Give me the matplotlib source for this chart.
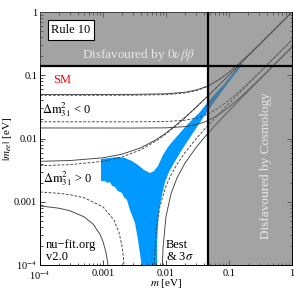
import matplotlib
matplotlib.use("Agg")
import matplotlib.pyplot as plt
from matplotlib.ticker import FixedLocator, FixedFormatter, LogLocator, NullFormatter

plt.rcParams["font.family"] = ["Liberation Serif", "DejaVu Serif"]
plt.rcParams["mathtext.fontset"] = "stix"

# inverted ordering (Delta m^2_31 < 0)
ih_m = [1e-4, 1e-3, 3e-3, 0.01, 0.02, 0.03, 0.04, 0.05, 0.07, 0.1, 0.15, 0.2, 0.3, 0.5, 1]
ih_upper_best = [0.0482, 0.04825, 0.04837, 0.04941, 0.05247, 0.0571, 0.06297, 0.06977,
                 0.08527, 0.11124, 0.15772, 0.20585, 0.30393, 0.50237, 1.00118]
ih_upper_3s = [0.04975, 0.04977, 0.04988, 0.05088, 0.05384, 0.05836, 0.06411, 0.0708,
               0.08612, 0.11189, 0.15817, 0.2062, 0.30417, 0.50252, 1.00126]
ih_lower_best = [0.01837, 0.01835, 0.01834, 0.01854, 0.01946, 0.02101, 0.02304, 0.02543,
                 0.03096, 0.04027, 0.05701, 0.07437, 0.10976, 0.18138, 0.36144]
ih_lower_3s = [0.01467, 0.01465, 0.01463, 0.01474, 0.0154, 0.01656, 0.01811, 0.01995,
               0.02421, 0.03144, 0.04444, 0.05794, 0.08547, 0.1412, 0.28135]

# normal ordering (Delta m^2_31 > 0)
nh_m = [1e-4, 3e-4, 1e-3, 2e-3, 4e-3, 7e-3, 0.01, 0.015, 0.02, 0.03, 0.04, 0.05,
        0.07, 0.1, 0.15, 0.2, 0.3, 0.5, 1]
nh_upper_best = [0.003724, 0.003861, 0.004354, 0.005085, 0.006643, 0.009167, 0.011842,
                 0.016489, 0.021258, 0.030967, 0.040785, 0.050656, 0.070489, 0.100344,
                 0.150221, 0.200148, 0.300065, 0.49998, 0.99984]
nh_upper_3s = [0.004356, 0.004486, 0.00495, 0.005645, 0.007139, 0.009587, 0.012206,
               0.016789, 0.021516, 0.031172, 0.040955, 0.050803, 0.070608, 0.100441,
               0.150301, 0.200229, 0.300152, 0.500092, 1.00004]

nh_low_best_left_m = [1e-4, 2e-4, 3e-4, 5e-4, 1e-3, 1.5e-3, 1.8e-3, 2e-3, 2.1e-3, 2.2e-3, 2.25e-3]
nh_low_best_left = [0.001426, 0.001359, 0.001291, 0.001158, 0.00083, 0.000511, 0.000324,
                    0.000199, 0.000138, 0.000076, 0.000046]
nh_low_best_right_m = [6.3e-3, 6.4e-3, 6.5e-3, 7e-3, 8e-3, 0.01, 0.012, 0.015, 0.02, 0.03,
                       0.04, 0.05, 0.07, 0.1, 0.15, 0.2, 0.3, 0.5, 1]
nh_low_best_right = [0.000015, 0.000066, 0.000116, 0.000363, 0.000846, 0.001772, 0.002656,
                     0.003931, 0.00597, 0.009875, 0.013671, 0.017414, 0.024809, 0.035796,
                     0.053989, 0.072132, 0.108355, 0.180723, 0.36156]

nh_low_3s_left_m = [1e-4, 2e-4, 3e-4, 5e-4, 7e-4, 9e-4, 1e-3, 1.1e-3, 1.15e-3, 1.2e-3, 1.3e-3]
nh_low_3s_left = [0.00086, 0.00079, 0.000719, 0.000579, 0.000441, 0.000303, 0.000235,
                  0.000167, 0.000133, 0.0001, 0.000032]
nh_low_3s_right_m = [8.6e-3, 8.8e-3, 9e-3, 0.01, 0.012, 0.015, 0.02, 0.03, 0.04, 0.05, 0.07,
                     0.1, 0.15, 0.2, 0.3, 0.5, 1]
nh_low_3s_right = [0.000033, 0.000115, 0.000194, 0.000586, 0.001335, 0.002399, 0.004068,
                   0.007204, 0.010213, 0.013157, 0.018936, 0.027479, 0.041579, 0.055611,
                   0.083608, 0.139508, 0.27916]

# Rule 10 prediction region (outline)
blue_m = [0.000929, 0.00129, 0.00173, 0.00223, 0.00288, 0.0036, 0.00448, 0.00557, 0.00646,
          0.00746, 0.00895, 0.01076, 0.0129, 0.01667, 0.02153, 0.0278, 0.0347, 0.0448, 0.06,
          0.0865, 0.1156, 0.144, 0.1667, 0.129, 0.0964, 0.072, 0.0537, 0.0386, 0.0288,
          0.02153, 0.01667, 0.0134, 0.01117, 0.00964, 0.00865, 0.00775, 0.00746, 0.00719,
          0.00719, 0.00416, 0.0036, 0.00322, 0.00268, 0.0024, 0.00215, 0.002, 0.00172,
          0.00155, 0.0014, 0.00129, 0.00118, 0.00108, 0.000929]
blue_mee = [0.00474, 0.00492, 0.0051, 0.00492, 0.00441, 0.00381, 0.00318, 0.00285, 0.00306,
            0.00367, 0.00548, 0.00734, 0.00913, 0.01222, 0.01634, 0.0211, 0.02624, 0.0364,
            0.0506, 0.0754, 0.1086, 0.1507, 0.1507, 0.1086, 0.0754, 0.0506, 0.0339, 0.0211,
            0.0136, 0.00881, 0.0059, 0.0041, 0.00295, 0.00205, 0.00128, 0.00074, 0.000429,
            0.000207, 0.00009, 0.00009, 0.000248, 0.000461, 0.00074, 0.00107, 0.00118,
            0.00138, 0.00148, 0.00171, 0.00178, 0.00205, 0.00198, 0.00212, 0.00213]

# experimental bounds
mee_bound = 0.14      # 0vbb
m_bound = 0.047       # cosmology

tick_vals = [1e-4, 1e-3, 1e-2, 1e-1, 1]
tick_labels = ["10$^{-4}$", "0.001", "0.01", "0.1", "1"]

W, H = 294, 294


def px(x, y):
    """pixel position (from top-left) to figure fraction"""
    return x / W, 1 - y / H


fig = plt.figure(figsize=(W / 100, H / 100), dpi=100)
ax = fig.add_axes([40 / W, 1 - 265 / H, 252 / W, 253 / H])
ax.set_xscale("log")
ax.set_yscale("log")
ax.set_xlim(1e-4, 1)
ax.set_ylim(1e-4, 1)

ax.fill(blue_m, blue_mee, color="#0099ff", lw=0, zorder=1)

line_kw = dict(color="0.25", lw=0.65, zorder=2)
dash_kw = dict(color="0.25", lw=0.65, zorder=2, dashes=(3, 1.8))
ax.plot(ih_m, ih_upper_3s, **line_kw)
ax.plot(ih_m, ih_lower_3s, **line_kw)
ax.plot(ih_m, ih_upper_best, **dash_kw)
ax.plot(ih_m, ih_lower_best, **dash_kw)
ax.plot(nh_m, nh_upper_3s, **line_kw)
ax.plot(nh_m, nh_upper_best, **dash_kw)
ax.plot(nh_low_3s_left_m, nh_low_3s_left, **line_kw)
ax.plot(nh_low_3s_right_m, nh_low_3s_right, **line_kw)
ax.plot(nh_low_best_left_m, nh_low_best_left, **dash_kw)
ax.plot(nh_low_best_right_m, nh_low_best_right, **dash_kw)

# disfavoured regions, one L-shaped patch so the corner is not shaded twice
ax.fill([1e-4, m_bound, m_bound, 1, 1, 1e-4],
        [mee_bound, mee_bound, 1e-4, 1e-4, 1, 1],
        color="#6b6b6b", alpha=0.62, lw=0, zorder=3)
ax.axhline(mee_bound, color="black", lw=1.6, zorder=4)
ax.axvline(m_bound, color="black", lw=1.6, zorder=4)

ax.xaxis.set_major_locator(FixedLocator(tick_vals))
ax.xaxis.set_major_formatter(FixedFormatter(tick_labels))
ax.yaxis.set_major_locator(FixedLocator(tick_vals))
ax.yaxis.set_major_formatter(FixedFormatter(tick_labels))
for axis in (ax.xaxis, ax.yaxis):
    axis.set_minor_locator(LogLocator(base=10, subs=range(2, 10)))
    axis.set_minor_formatter(NullFormatter())
ax.tick_params(which="both", direction="in", top=True, right=True, labelsize=7.5, width=0.5)
ax.tick_params(which="major", length=3.5, pad=2)
ax.tick_params(axis="x", which="major", pad=3)
ax.tick_params(which="minor", length=1.8)
for s in ax.spines.values():
    s.set_linewidth(0.7)

ax.set_xlabel("$m$ [eV]", fontsize=8)
ax.xaxis.set_label_coords(0.5, -0.075)
ax.xaxis.label.set_va("center")
ax.set_ylabel("$|m_{ee}|$ [eV]", fontsize=8)
ax.yaxis.set_label_coords(-0.128, 0.5)
ax.yaxis.label.set_va("center")

fig.text(*px(71, 30), "Rule 10", fontsize=9, ha="center", va="center", zorder=6,
         bbox=dict(boxstyle="square,pad=0.3", fc="white", ec="black", lw=0.8))
fig.text(*px(139, 55), r"Disfavoured by $0\nu\beta\beta$", fontsize=9.5, color="#e8e8e8",
         ha="center", va="center")
fig.text(*px(266, 166), "Disfavoured by Cosmology", fontsize=9.5, color="#e8e8e8",
         ha="center", va="center", rotation=90)
fig.text(*px(53, 80), "SM", fontsize=9, color="red", ha="left", va="center")
fig.text(*px(42, 110), r"$\Delta\mathrm{m}^2_{31}$ < 0", fontsize=9, ha="left", va="center")
fig.text(*px(43, 179), r"$\Delta\mathrm{m}^2_{31}$ > 0", fontsize=9, ha="left", va="center")
fig.text(*px(46, 251), "nu\u2212fit.org\nv2.0", fontsize=9, ha="left", va="center",
         linespacing=0.95)
fig.text(*px(166, 251), "Best\n& 3$\\sigma$", fontsize=9, ha="left", va="center",
         linespacing=0.95)

fig.savefig("out.png", dpi=100)
